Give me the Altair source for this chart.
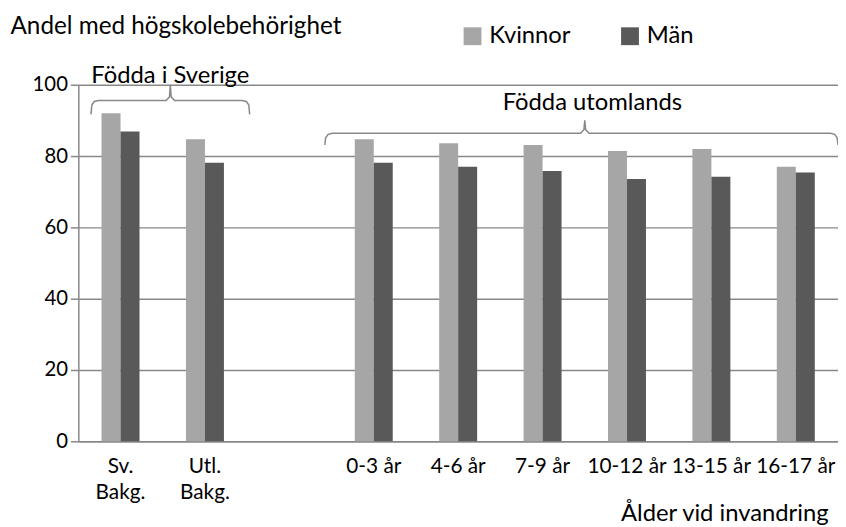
import altair as alt
import pandas as pd

# ---- data ----
categories = ["Sv.|Bakg.", "Utl.|Bakg.", " ", "0-3 år", "4-6 år", "7-9 år",
              "10-12 år", "13-15 år", "16-17 år"]
bar_categories = ["Sv.|Bakg.", "Utl.|Bakg.", "0-3 år", "4-6 år", "7-9 år",
                  "10-12 år", "13-15 år", "16-17 år"]
kvinnor = [92.0, 84.7, 84.7, 83.6, 83.1, 81.4, 82.0, 77.0]
man = [86.9, 78.1, 78.1, 77.0, 75.8, 73.6, 74.2, 75.4]
series = ["Kvinnor", "Män"]
colors = ["#A6A6A6", "#595959"]
y_ticks = [0, 20, 40, 60, 80, 100]

# bracket annotations (in category units along x, data units along y)
bracket_names = ["Födda i Sverige", "Födda utomlands"]
bracket_start = [0.15, 2.92]
bracket_end = [2.03, 9.0]
bracket_mid = [1.09, 6.0]
bracket_level = [95.6, 86.4]
bracket_low = [91.7, 83.1]
bracket_peak = [100.0, 90.0]
label_x = [1.09, 6.09]
label_y = [100.6, 93.0]

FONT = "Lato"
GRID = "#888888"

rows = []
for c, k, m in zip(bar_categories, kvinnor, man):
    rows.append({"kategori": c, "kön": "Kvinnor", "värde": k})
    rows.append({"kategori": c, "kön": "Män", "värde": m})
bars_df = pd.DataFrame(rows)

brows = []
for n, x0, x1, xc, hi, lo, pk in zip(bracket_names, bracket_start, bracket_end,
                                       bracket_mid, bracket_level, bracket_low,
                                       bracket_peak):
    pts = [(x0, lo), (x0 + 0.01, hi - 1.3), (x0 + 0.04, hi - 0.3), (x0 + 0.09, hi),
           (xc - 0.05, hi), (xc - 0.01, hi + 1.0), (xc, pk), (xc + 0.01, hi + 1.0),
           (xc + 0.05, hi),
           (x1 - 0.09, hi), (x1 - 0.04, hi - 0.3), (x1 - 0.01, hi - 1.3), (x1, lo)]
    for i, (px, py) in enumerate(pts):
        brows.append({"grupp": n, "i": i, "värde": py, "bx": px})
brackets_df = pd.DataFrame(brows)
labels_df = pd.DataFrame({"text": bracket_names, "lx": label_x, "värde": label_y})

yscale = alt.Scale(domain=[0, 100], nice=False)
xq = alt.Scale(domain=[0, 9], nice=False, zero=False)

y_axis = alt.Axis(values=y_ticks, grid=True, gridColor=GRID, gridWidth=1.5,
                  domainColor=GRID, domainWidth=1.5, tickColor=GRID,
                  tickWidth=1.5, tickSize=8, labelPadding=3,
                  labelFontSize=20.5, labelColor="black", labelFont=FONT,
                  title="Andel med högskolebehörighet", titleAngle=0,
                  titleAlign="left", titleBaseline="alphabetic",
                  titleX=-69, titleY=-52, titleFontSize=24.5,
                  titleFontWeight="normal", titleColor="black",
                  titleFont=FONT)

bars = alt.Chart(bars_df).mark_bar().encode(
    x=alt.X("kategori:N",
            scale=alt.Scale(domain=categories, paddingInner=0.55, paddingOuter=0.275),
            axis=alt.Axis(title="Ålder vid invandring", titleAlign="right",
                          titleX=757, titleY=80, titleBaseline="alphabetic",
                          titleFontSize=24, titleFontWeight="normal", titleColor="black",
                          titleFont=FONT,
                          labelExpr="split(datum.label, '|')", labelLineHeight=27,
                          labelBaseline="top", labelPadding=14, labelAngle=0,
                          labelFontSize=21, labelColor="black", labelFont=FONT,
                          ticks=False, domainColor=GRID, domainWidth=1.5)),
    xOffset=alt.XOffset("kön:N", scale=alt.Scale(domain=series)),
    y=alt.Y("värde:Q", scale=yscale, axis=y_axis),
    color=alt.Color("kön:N", scale=alt.Scale(domain=series, range=colors),
                    legend=alt.Legend(orient="none", legendX=386, legendY=-61,
                                      direction="horizontal", title=None,
                                      symbolType="square", symbolSize=324,
                                      symbolStrokeWidth=0, labelFontSize=24,
                                      labelFont=FONT, labelColor="black",
                                      labelOffset=5, columnPadding=48, padding=0)),
)

lines = alt.Chart(brackets_df).mark_line(color=GRID, strokeWidth=1.5, clip=False).encode(
    x=alt.X("bx:Q", scale=xq, axis=None),
    y=alt.Y("värde:Q", scale=yscale, axis=y_axis),
    detail="grupp:N",
    order="i:Q",
)

texts = alt.Chart(labels_df).mark_text(font=FONT, fontSize=24, baseline="alphabetic",
                                       align="center", color="black").encode(
    x=alt.X("lx:Q", scale=xq, axis=None),
    y=alt.Y("värde:Q", scale=yscale, axis=y_axis),
    text="text:N",
)

chart = alt.layer(bars, lines, texts).resolve_scale(x="independent").properties(
    width=767, height=360, autosize="none",
    padding={"left": 71, "top": 75, "right": 0, "bottom": 84},
).configure_view(stroke=None)

chart.save("out.html", embed_options={"renderer": "svg", "actions": False})
